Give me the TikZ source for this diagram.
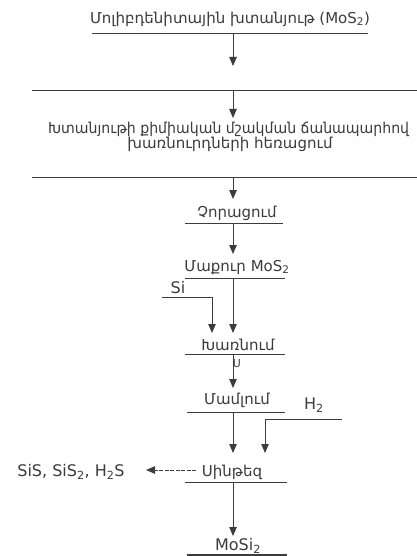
\documentclass[tikz,border=0pt]{standalone}
\usepackage{fontspec}
\setmainfont{DejaVu Sans}
\usetikzlibrary{arrows.meta}
\definecolor{ink}{HTML}{3C3C3C}
\tikzset{
  lbl/.style={text=ink, font=\fontsize{15}{17}\selectfont, inner sep=0pt},
  latin/.style={lbl, font=\fontsize{16}{18}\selectfont},
  rulel/.style={draw=ink, line width=0.9pt},
  arr/.style={draw=ink, line width=0.8pt, -{Triangle[length=9pt,width=7.5pt]}},
  dasharr/.style={arr, dash pattern=on 4pt off 1.5pt},
}
\newcommand{\sub}[1]{\textsubscript{#1}}
\begin{document}
\begin{tikzpicture}[x=1pt,y=-1pt]
\useasboundingbox[fill=white] (0,0) rectangle (416,556);
% texts
\node[lbl] (t1) at (230,19) {Մոլիբդենիտային խտանյութ (MoS\sub{2})};
\node[lbl,anchor=west] (t2a) at (48,129) {\scalebox{0.94}[1]{Խտանյութի քիմիական մշակման ճանապարհով}};
\node[lbl] (t2b) at (230,144) {խառնուրդների հեռացում};
\node[lbl] (t3) at (237,213) {Չորացում};
\node[lbl] (t4) at (237,267) {Մաքուր MoS\sub{2}};
\node[latin] (si) at (178,288) {Si};
\node[lbl] (t5) at (238,345) {Խառնում};
\node[lbl,font=\fontsize{11}{12}\selectfont] (g) at (237,364) {Ս};
\node[lbl] (t6) at (237,400) {Մամլում};
\node[latin] (h2) at (314,405) {H\sub{2}};
\node[lbl] (t7) at (232,472) {Սինթեզ};
\node[latin] (sis) at (71,472) {SiS, SiS\sub{2}, H\sub{2}S};
\node[latin] (t8) at (238,546) {MoSi\sub{2}};
% rules
\draw[rulel] (92,33) coordinate (r1a) -- (368,33) coordinate (r1b);
\draw[rulel] (32,90) coordinate (r2a) -- (420,90) coordinate (r2b);
\draw[rulel] (32,177) coordinate (r3a) -- (420,177) coordinate (r3b);
\draw[rulel] (185,223) -- (283,223);
\draw[rulel] (185,278) -- (285,278);
\draw[rulel] (185,354) -- (285,354);
\draw[rulel] (187,412) -- (285,412);
\draw[rulel] (185,482) -- (287,482);
\draw[draw=ink, line width=2pt] (187,554.5) -- (287,554.5);
% arrow coordinates
\coordinate (s1) at (233,33);  \coordinate (e1) at (233,66);
\coordinate (s2) at (233,90);  \coordinate (e2) at (233,118);
\coordinate (s3) at (233,177); \coordinate (e3) at (233,199);
\coordinate (s4) at (233,223); \coordinate (e4) at (233,254);
\coordinate (s5) at (233,278); \coordinate (e5) at (233,333);
\coordinate (s6) at (233,354); \coordinate (e6) at (233,388);
\coordinate (s7) at (233,412); \coordinate (e7) at (233,453);
\coordinate (s8) at (233,482); \coordinate (e8) at (233,536);
\coordinate (sia) at (162,297); \coordinate (sib) at (212,297); \coordinate (sie) at (212,333);
\coordinate (ha) at (342,419); \coordinate (hb) at (265,419); \coordinate (he) at (265,453);
\coordinate (ds) at (196,470); \coordinate (de) at (146,470);
\draw[arr] (s1) -- (e1);
\draw[arr] (s2) -- (e2);
\draw[arr] (s3) -- (e3);
\draw[arr] (s4) -- (e4);
\draw[arr] (s5) -- (e5);
\draw[arr] (s6) -- (e6);
\draw[arr] (s7) -- (e7);
\draw[arr] (s8) -- (e8);
\draw[arr] (sia) -- (sib) -- (sie);
\draw[arr] (ha) -- (hb) -- (he);
\draw[dasharr] (ds) -- (de);
\end{tikzpicture}
\end{document}
